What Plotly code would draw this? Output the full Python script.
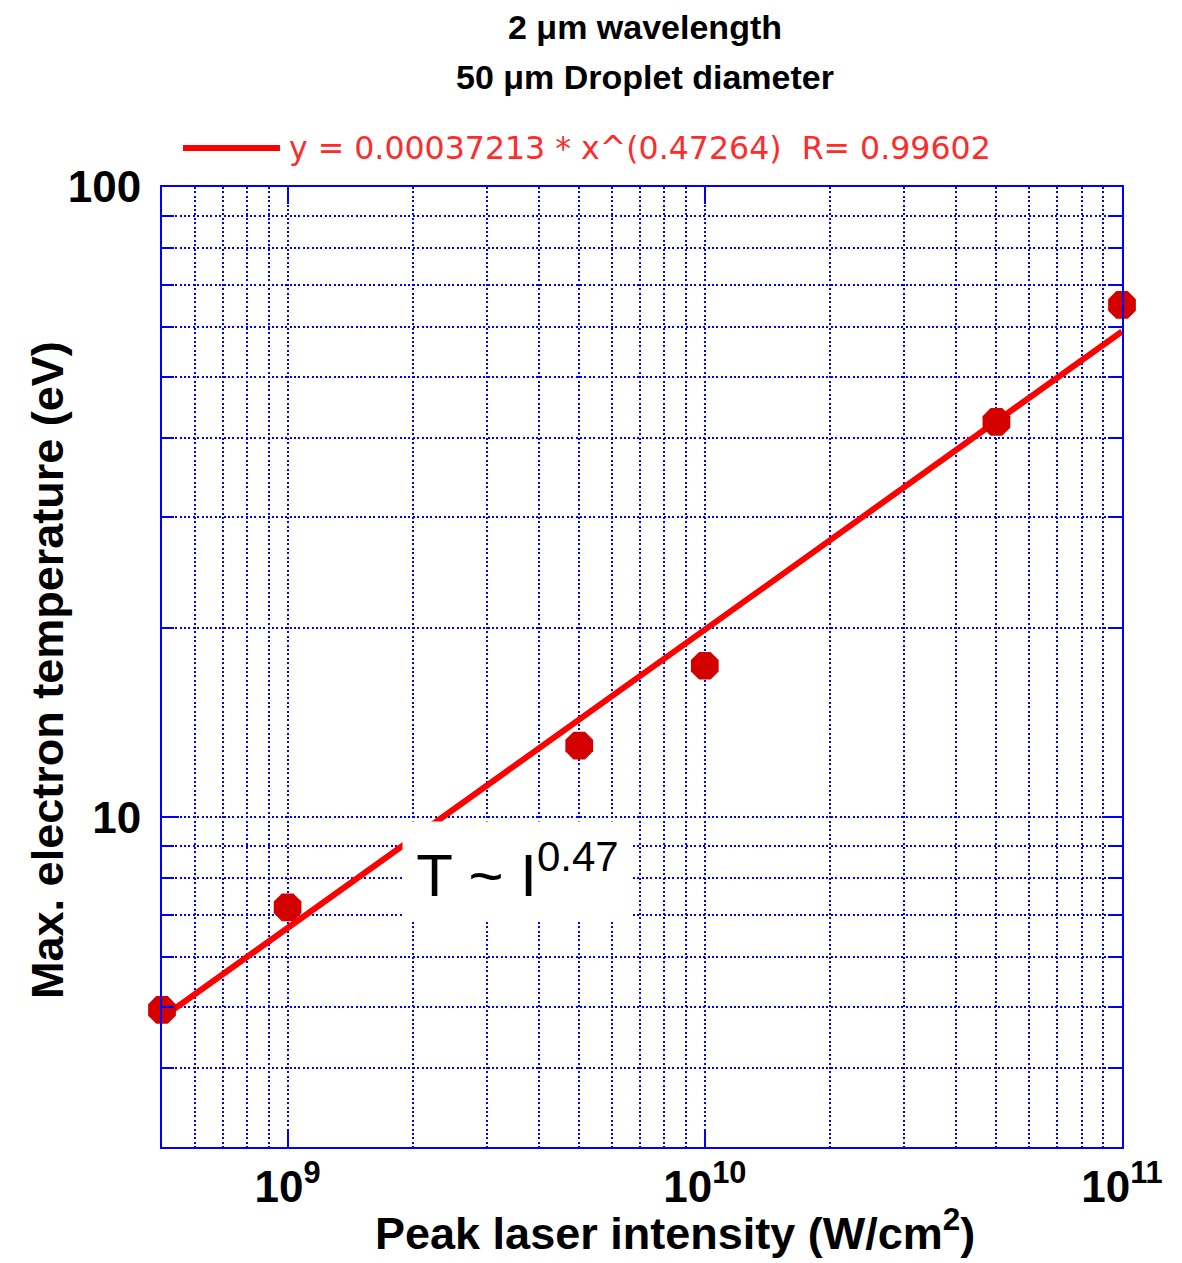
import plotly.graph_objects as go

# Data
intensity = [5e8, 1e9, 5e9, 1e10, 5e10, 1e11]
temperature = [4.95, 7.2, 13.0, 17.4, 42.4, 65.0]

# Power-law fit line (end points)
fit_x = [5e8, 1e11]
fit_y = [4.81, 59.0]
fit_label = "y = 0.00037213 * x^(0.47264)  R= 0.99602"

x_tickvals = [1e9, 1e10, 1e11]
x_ticktext = ["10<sup>9</sup>", "10<sup>10</sup>", "10<sup>11</sup>"]
y_tickvals = [10, 100]
y_ticktext = ["10", "100"]

BLUE = "#0000ff"
FONT = "Liberation Sans, Arial, sans-serif"
GRID_DASH = "2px,2.4px"
GRID_W = 2

fig = go.Figure()
fig.add_trace(go.Scatter(
    x=fit_x, y=fit_y, mode="lines",
    line=dict(color="#ff0000", width=6),
    name=fit_label, showlegend=False,
))
fig.add_trace(go.Scatter(
    x=intensity, y=temperature, mode="markers",
    marker=dict(color="#d40000", size=30, symbol="octagon"),
    showlegend=False, cliponaxis=False,
))

axis_common = dict(
    type="log",
    showline=True, linecolor=BLUE, linewidth=2, mirror="ticks",
    ticks="inside", ticklen=17, tickwidth=2, tickcolor=BLUE,
    showgrid=True, gridcolor=BLUE, griddash=GRID_DASH, gridwidth=GRID_W,
    zeroline=False,
    tickfont=dict(family=FONT, size=44, color="black", weight="bold"),
)

fig.update_xaxes(
    **axis_common,
    range=[8.69897, 11],
    tickmode="array", tickvals=x_tickvals, ticktext=x_ticktext,
    minor=dict(dtick="D1", showgrid=True, gridcolor=BLUE, griddash=GRID_DASH,
               gridwidth=GRID_W, ticks=""),
)
fig.update_yaxes(
    **axis_common,
    range=[0.47712, 2],
    tickmode="array", tickvals=y_tickvals, ticktext=y_ticktext,
    ticklabelstandoff=10,
    minor=dict(dtick="D1", showgrid=True, gridcolor=BLUE, griddash=GRID_DASH,
               gridwidth=GRID_W, ticks="inside", ticklen=12, tickwidth=2, tickcolor=BLUE),
)

# Axis titles
fig.add_annotation(text="Peak laser intensity (W/cm<sup>2</sup>)",
                   xref="paper", yref="paper", x=0.534, y=-0.0865,
                   xanchor="center", yanchor="middle", showarrow=False,
                   font=dict(family=FONT, size=45, color="black", weight="bold"))
fig.add_annotation(text="Max. electron temperature (eV)",
                   xref="paper", yref="paper", x=-0.1187, y=0.497,
                   xanchor="center", yanchor="middle", showarrow=False,
                   textangle=-90,
                   font=dict(family=FONT, size=45, color="black", weight="bold"))

# Title lines
fig.add_annotation(text="2 μm wavelength", xref="paper", yref="paper",
                   x=0.503, y=1.1667, xanchor="center", yanchor="middle",
                   showarrow=False,
                   font=dict(family=FONT, size=34, color="black", weight="bold"))
fig.add_annotation(text="50 μm Droplet diameter", xref="paper", yref="paper",
                   x=0.503, y=1.1146, xanchor="center", yanchor="middle",
                   showarrow=False,
                   font=dict(family=FONT, size=34, color="black", weight="bold"))

# Legend key (line sample + label)
fig.add_shape(type="line", xref="paper", yref="paper",
              x0=0.0219, x1=0.1229, y0=1.0406, y1=1.0406,
              line=dict(color="#ff0000", width=6))
fig.add_annotation(text=fit_label, xref="paper", yref="paper",
                   x=0.1302, y=1.0406, xanchor="left", yanchor="middle",
                   showarrow=False,
                   font=dict(family="DejaVu Sans, sans-serif", size=31.6, color="#ff2a2a"))

# In-plot annotation
fig.add_annotation(
    text="T ~ I<sup>0.47</sup>", xref="paper", yref="paper",
    x=0.3698, y=0.2875, xanchor="center", yanchor="middle", showarrow=False,
    font=dict(family=FONT, size=60, color="black"),
    bgcolor="white", borderpad=0, width=229, height=98,
)

fig.update_layout(
    width=1182, height=1263,
    margin=dict(l=162, r=60, t=187, b=116),
    paper_bgcolor="white", plot_bgcolor="white",
    showlegend=False,
)

fig.write_html("out.html")
